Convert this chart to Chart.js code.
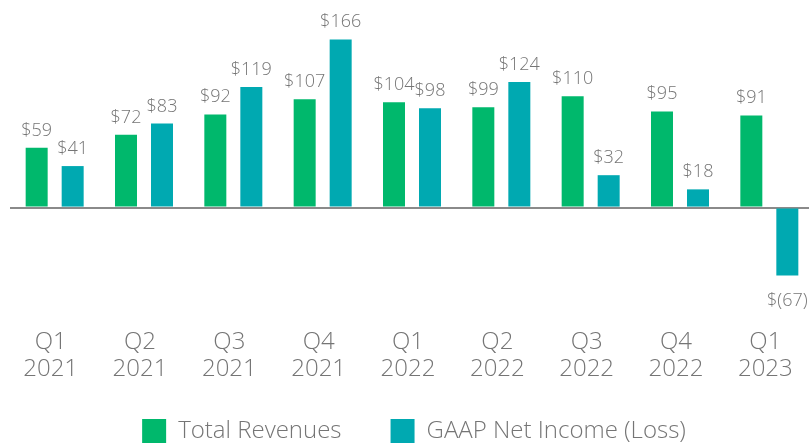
<!DOCTYPE html>
<html>
<head>
<meta charset="utf-8">
<script src="https://cdn.jsdelivr.net/npm/chart.js@4"></script>
<style>
  html, body { margin: 0; padding: 0; background: #fff; overflow: hidden; }
  #wrap { width: 809px; height: 443px; overflow: hidden; }
</style>
</head>
<body>
<div id="wrap"><canvas id="grafica" width="830" height="470"></canvas></div>
<script>
// ── Datos del gráfico ─────────────────────────────────────────
var trimestres = [['Q1', '2021'], ['Q2', '2021'], ['Q3', '2021'], ['Q4', '2021'],
                  ['Q1', '2022'], ['Q2', '2022'], ['Q3', '2022'], ['Q4', '2022'],
                  ['Q1', '2023']];
var ingresos   = [59, 72, 92, 107, 104, 99, 110, 95, 91];
var utilidad   = [41, 83, 119, 166, 98, 124, 32, 18, -67];
var nombres    = ['Total Revenues', 'GAAP Net Income (Loss)'];

var VERDE = '#00b86c';
var TEAL  = '#00a9b1';
var GRIS  = '#757575';
var FUENTE = '"Open Sans", "Noto Sans", sans-serif';

// $59 / $(67)
function formatoDolar(v) {
    return v < 0 ? '$(' + Math.abs(v) + ')' : '$' + v;
}

// ── Etiquetas de valor sobre / bajo cada barra ─────────────────
var etiquetasValor = {
    id: 'etiquetasValor',
    afterDatasetsDraw: function(chart) {
        var ctx = chart.ctx;
        ctx.save();
        ctx.font = '300 18px ' + FUENTE;
        ctx.fillStyle = GRIS;
        ctx.textAlign = 'center';
        ctx.textBaseline = 'alphabetic';
        chart.data.datasets.forEach(function(ds, i) {
            chart.getDatasetMeta(i).data.forEach(function(barra, j) {
                var v = ds.data[j];
                var y = v >= 0 ? barra.y - 12 : barra.y + 31;
                ctx.fillText(formatoDolar(v), barra.x, y);
            });
        });
        ctx.restore();
    }
};

// subir la leyenda para que quede como en el original
var ajusteLeyenda = {
    id: 'ajusteLeyenda',
    afterLayout: function(chart) {
        var l = chart.legend;
        if (l) {
            l.top -= 17;
            l.bottom -= 17;
            l.left += 2;
            l.right += 2;
        }
    }
};

new Chart(document.getElementById('grafica').getContext('2d'), {
    type: 'bar',
    data: {
        labels: trimestres,
        datasets: [
            { label: nombres[0], data: ingresos, backgroundColor: VERDE, borderWidth: 0 },
            { label: nombres[1], data: utilidad, backgroundColor: TEAL,  borderWidth: 0 }
        ]
    },
    options: {
        responsive: false,
        animation: false,
        layout: { padding: { left: 10, right: 16, top: 0, bottom: 0 } },
        datasets: { bar: { categoryPercentage: 0.806, barPercentage: 0.611 } },
        plugins: {
            tooltip: { enabled: false },
            legend: {
                position: 'bottom',
                labels: {
                    boxWidth: 24,
                    boxHeight: 24,
                    padding: 49,
                    color: GRIS,
                    font: { family: FUENTE, size: 24, weight: '300' }
                }
            }
        },
        scales: {
            x: {
                grid: { display: false, drawTicks: false },
                border: { display: false },
                ticks: {
                    color: GRIS,
                    padding: 8,
                    labelOffset: -4,
                    maxRotation: 0,
                    autoSkip: false,
                    font: { family: FUENTE, size: 24, weight: '300', lineHeight: 1.15 }
                },
                afterFit: function(s) { s.height = 67; }
            },
            y: {
                min: -111,
                max: 205,
                ticks: { display: false },
                border: { display: false },
                grid: { color: '#8a8a8a', lineWidth: 2, drawTicks: false },
                afterBuildTicks: function(s) { s.ticks = [{ value: 0 }]; },
                afterFit: function(s) { s.width = 0; }
            }
        }
    },
    plugins: [etiquetasValor, ajusteLeyenda]
});
</script>
</body>
</html>
